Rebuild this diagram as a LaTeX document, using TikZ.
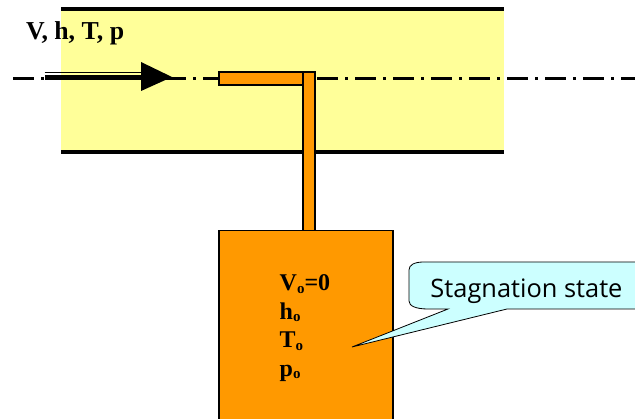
\documentclass[tikz,border=0pt]{standalone}
\usepackage{fontspec}
\setmainfont{Liberation Serif}
\newfontfamily\calloutfont{Open Sans}
\definecolor{pipe yellow}{HTML}{FFFF99}
\definecolor{probe orange}{HTML}{FF9900}
\definecolor{callout cyan}{HTML}{CCFFFF}
\newcommand{\stagsub}{\raisebox{-2.5pt}{\fontsize{15}{15}\selectfont o}}

\begin{document}
\begin{tikzpicture}[x=1pt,y=-1pt,
                    pipe wall/.style={line width=4pt},
                    center line/.style={line width=3pt,dash pattern=on 21pt off 7pt on 3.4pt off 6.6pt},
                    probe/.style={fill=probe orange,draw=black,line width=1.4pt},
                    flow thin/.style={line width=1.2pt},
                    flow thick/.style={line width=5pt},
                    flow head/.style={fill=black},
                    flow label/.style={anchor=base west,inner sep=0pt,font=\fontsize{25.8}{28}\selectfont\bfseries},
                    state label/.style={anchor=base west,inner sep=0pt,font=\fontsize{24}{26}\selectfont\bfseries},
                    callout body/.style={fill=callout cyan,draw=black,line width=0.8pt},
                    callout label/.style={inner sep=0pt,font=\fontsize{25.4}{28}\selectfont\calloutfont}]
            \coordinate (pipe top left) at (61,9);
            \coordinate (pipe top right) at (504,9);
            \coordinate (pipe bottom left) at (61,152);
            \coordinate (pipe bottom right) at (504,152);
            \coordinate (axis start) at (13,78.5);
            \coordinate (axis end) at (635,78.5);
            \coordinate (flow thin start) at (44.5,72.7);
            \coordinate (flow thin end) at (142,72.7);
            \coordinate (flow thick start) at (45,77.5);
            \coordinate (flow thick end) at (142,77.5);

            \clip (0,0) rectangle (635,419);

            \fill[pipe yellow] (pipe top left) rectangle (pipe bottom right);
            \draw[pipe wall] (pipe top left) -- (pipe top right);
            \draw[pipe wall] (pipe bottom left) -- (pipe bottom right);

            \draw[center line] (axis start) -- (axis end);

            \draw[flow thin] (flow thin start) -- (flow thin end);
            \draw[flow thick] (flow thick start) -- (flow thick end);
            \fill[flow head] (141,62) -- (172,77) -- (141,91) -- cycle;

            \draw[probe] (219,72) rectangle (303,85);
            \draw[probe] (303,72) rectangle (315,231);
            \draw[probe] (219,230.5) rectangle (393,430);

            \node[flow label] (flow state) at (26,39.5) {V, h, T, p};
            \node[state label] (stag velocity) at (279.5,291) {V\stagsub=0};
            \node[state label] (stag enthalpy) at (279.5,319.5) {h\stagsub};
            \node[state label] (stag temperature) at (279.5,348) {T\stagsub};
            \node[state label] (stag pressure) at (279.5,376.5) {p\stagsub};

            \draw[callout body] (448,309) -- (352,347) -- (507,309)
                -- (640,309) -- (640,262) -- (424,262)
                .. controls (414,262) and (409,265) .. (409,270)
                -- (409,301)
                .. controls (409,306) and (416,309) .. (428,309) -- cycle;
            \node[callout label] (callout text) at (526.5,291) {Stagnation state};
        \end{tikzpicture}
\end{document}
